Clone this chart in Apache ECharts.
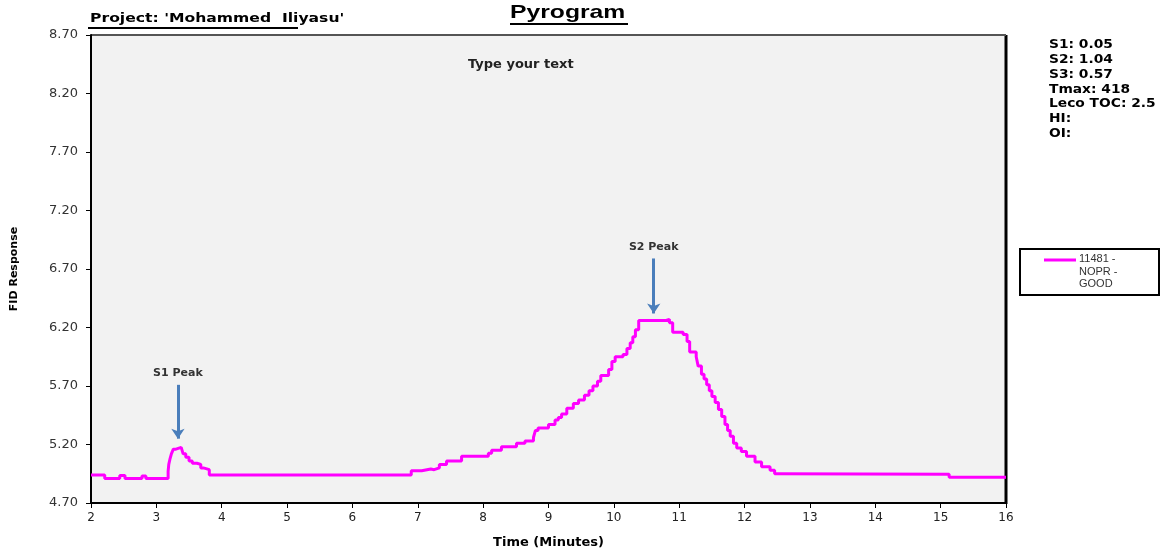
<!DOCTYPE html>
<html><head><meta charset="utf-8">
<script src="https://cdn.jsdelivr.net/npm/echarts@6/dist/echarts.min.js"></script>
<style>html,body{margin:0;padding:0;background:#fff}#c{width:1167px;height:556px}</style>
</head><body><div id="c"></div>
<script>
// ---- data ----
const times = [2.00,2.21,2.44,2.52,2.78,2.84,3.18,3.19,3.21,3.23,3.26,3.30,3.38,3.41,3.45,3.50,3.55,3.62,3.68,3.72,3.81,
  6.90,7.06,7.20,7.25,7.33,7.44,7.67,8.08,8.13,8.28,8.51,8.64,8.77,8.80,8.84,9.00,9.10,9.15,9.20,9.28,9.38,9.46,9.55,9.62,9.68,9.75,9.80,9.92,9.97,10.02,10.14,10.20,10.25,10.29,10.33,10.38,
  10.80,10.85,10.90,11.06,11.12,11.16,11.26,11.29,11.34,11.38,11.42,11.46,11.50,11.55,11.60,11.65,11.70,11.74,11.78,11.83,11.88,11.95,12.03,12.16,12.26,12.39,12.46,12.50,15.13,16.00];
const fid = [4.94,4.91,4.935,4.91,4.93,4.91,4.97,5.03,5.08,5.12,5.16,5.175,5.16,5.12,5.09,5.06,5.04,5.03,5.00,4.985,4.94,
  4.975,4.99,4.985,5.00,5.03,5.06,5.10,5.125,5.15,5.18,5.21,5.23,5.26,5.32,5.34,5.37,5.41,5.43,5.46,5.51,5.55,5.58,5.62,5.66,5.70,5.74,5.79,5.84,5.91,5.95,5.97,6.02,6.07,6.12,6.18,6.26,
  6.27,6.24,6.16,6.14,6.08,5.99,5.95,5.87,5.80,5.76,5.71,5.66,5.61,5.56,5.50,5.44,5.37,5.32,5.27,5.21,5.17,5.14,5.10,5.05,5.01,4.98,4.95,4.945,4.92,4.92];
const seriesName = '11481 - NOPR - GOOD';
const legendLines = ['11481 -','NOPR -','GOOD'];
const stats = ['S1: 0.05','S2: 1.04','S3: 0.57','Tmax: 418','Leco TOC: 2.5','HI:','OI:'];
const peaks = [
  {name:'S1 Peak', x:3.33, yFrom:5.71, yTo:5.25},
  {name:'S2 Peak', x:10.61, yFrom:6.79, yTo:6.32}
];
const yMin = 4.70, yMax = 8.70, yStep = 0.5;
const xMin = 2, xMax = 16, xStep = 1;

// ---- build ----
const off = v => +(v - yMin).toFixed(4);
const lineData = times.map((t,i)=>[t, off(fid[i])]);
const chart = echarts.init(document.getElementById('c'), null, {renderer:'canvas'});
const ARROW = '#4a7ebb';
const option = {
  animation:false,
  backgroundColor:'#ffffff',
  grid:{left:91,right:161,top:35,bottom:53,containLabel:false,outerBoundsMode:'none',show:true,backgroundColor:'#f2f2f2',borderColor:'#000',borderWidth:1},
  xAxis:{type:'value',min:xMin,max:xMax,interval:xStep,
    name:'Time (Minutes)',nameLocation:'middle',nameGap:33,
    nameTextStyle:{fontFamily:'DejaVu Sans',fontWeight:'bold',fontSize:13,color:'#000'},
    axisLine:{lineStyle:{color:'#000',width:2}},
    axisTick:{show:true,length:5,lineStyle:{color:'#000',width:1}},
    axisLabel:{fontFamily:'DejaVu Sans',fontSize:12,color:'#222',margin:9},
    splitLine:{show:false}},
  yAxis:{type:'value',min:0,max:off(yMax),interval:yStep,
    name:'FID Response',nameLocation:'middle',nameGap:71,nameRotate:90,
    nameTextStyle:{fontFamily:'DejaVu Sans',fontWeight:'bold',fontSize:11,color:'#000'},
    axisLine:{show:true,lineStyle:{color:'#000',width:2}},
    axisTick:{show:true,length:5,lineStyle:{color:'#000',width:1}},
    axisLabel:{fontFamily:'DejaVu Sans',fontSize:13,color:'#333',margin:13,formatter:v=>(v+yMin).toFixed(2)},
    splitLine:{show:false}},
  series:[{
    name:seriesName,type:'line',step:'end',data:lineData,showSymbol:false,
    lineStyle:{color:'#ff00ff',width:3},itemStyle:{color:'#ff00ff'},
    markLine:{silent:true,symbol:['none','arrow'],symbolSize:[10,10],
      lineStyle:{color:ARROW,width:3,type:'solid'},
      label:{show:true,position:'start',distance:6,fontFamily:'DejaVu Sans',fontWeight:'bold',fontSize:11,color:'#333',formatter:p=>p.name},
      data:peaks.map(p=>[{name:p.name,coord:[p.x,off(p.yFrom)]},{coord:[p.x,off(p.yTo)]}])
    }
  }],
  graphic:[
    {type:'text',x:90,y:12,scaleX:1.2,style:{text:"Project: 'Mohammed  Iliyasu'",font:'bold 13px DejaVu Sans',fill:'#000'}},
    {type:'line',shape:{x1:88,y1:28,x2:298,y2:28},style:{stroke:'#000',lineWidth:2}},
    {type:'text',x:510,y:3,scaleX:1.3,style:{text:'Pyrogram',font:'bold 19px Arial',fill:'#000'}},
    {type:'line',shape:{x1:510,y1:24,x2:628,y2:24},style:{stroke:'#000',lineWidth:2}},
    {type:'line',shape:{x1:1006,y1:35,x2:1006,y2:504},style:{stroke:'#000',lineWidth:3}},
    {type:'line',shape:{x1:91,y1:35,x2:1006,y2:35},style:{stroke:'#555',lineWidth:2}},
    {type:'text',x:468,y:58,style:{text:'Type your text',font:'bold 13px DejaVu Sans',fill:'#222'}},
    {type:'text',x:1049,y:38,scaleX:1.15,style:{text:stats.join('\n'),font:'bold 12px DejaVu Sans',fill:'#000',lineHeight:14.7}},
    {type:'rect',shape:{x:1020,y:249,width:139,height:46},style:{fill:'#fff',stroke:'#000',lineWidth:2}},
    {type:'line',shape:{x1:1044,y1:260,x2:1076,y2:260},style:{stroke:'#ff00ff',lineWidth:3}},
    {type:'text',x:1079,y:253,style:{text:legendLines.join('\n'),font:'11px Arial',fill:'#333',lineHeight:12.5}}
  ]
};
chart.setOption(option);
</script></body></html>
